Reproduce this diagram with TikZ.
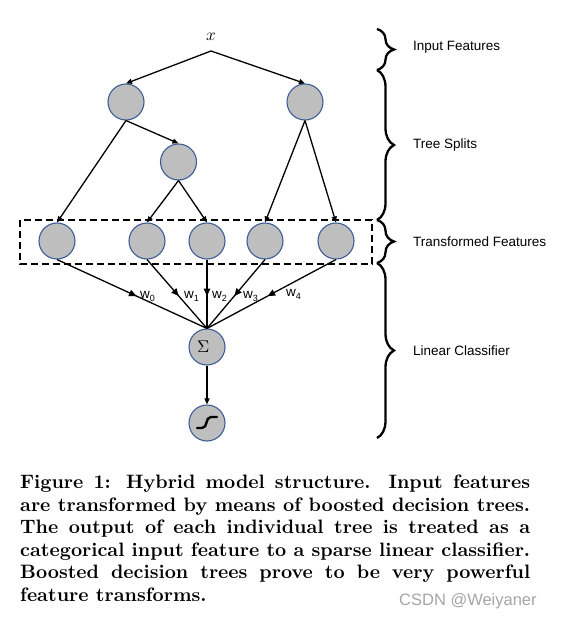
\documentclass[tikz,border=0pt]{standalone}
\usepackage{fontspec}
\usepackage{unicode-math}
\setmathfont{Latin Modern Math}
\setsansfont{Liberation Sans}
\newfontfamily\capfont{lmroman10-bold.otf}
\usetikzlibrary{arrows.meta,decorations.pathreplacing,decorations.markings}
\definecolor{nodefill}{RGB}{190,190,190}
\definecolor{nodeedge}{RGB}{62,92,150}
\definecolor{wmgray}{RGB}{165,165,165}
\begin{document}
\begin{tikzpicture}[x=1pt,y=-1pt,
  feat/.style={circle,draw=nodeedge,fill=nodefill,line width=1.1pt,minimum size=36pt,inner sep=0pt},
  treeedge/.style={line width=1.3pt,-{Triangle[length=6pt,width=5pt]}},
  wline/.style={line width=1.3pt,postaction={decorate},
    decoration={markings,mark=at position 0.53 with {\arrow{Triangle[length=7.5pt,width=6.5pt]}}}},
  bracebar/.style={decorate,decoration={brace,amplitude=17pt,aspect=0.5},line width=2.3pt},
  sidelbl/.style={font=\fontsize{13.5}{16}\selectfont\sffamily,anchor=west,inner sep=0pt},
  wlbl/.style={font=\fontsize{13.5}{15}\selectfont\sffamily,anchor=west,inner sep=0pt}]
\useasboundingbox (0,0) rectangle (562,621);

% input
\node[inner sep=0pt,font=\fontsize{17}{19}\selectfont] (x) at (211,37) {$x$};
\coordinate (apex) at (211,51);

% tree split nodes
\node[feat] (t1) at (126,102) {};
\node[feat] (t2) at (305,102) {};
\node[feat] (m)  at (178.5,162) {};

% transformed features
\node[feat] (f1) at (57,241) {};
\node[feat] (f2) at (147,241) {};
\node[feat] (f3) at (207,241) {};
\node[feat] (f4) at (265,241) {};
\node[feat] (f5) at (336,241) {};

% classifier
\node[feat,font=\fontsize{17}{19}\selectfont] (s) at (207,347) {\hspace*{-7pt}$\Sigma$};
\node[feat] (g) at (207,423) {};

% dashed box
\draw[line width=1.5pt,dash pattern=on 7pt off 4pt] (20,220) rectangle (372,264);

% tree edges
\draw[treeedge] (apex) -- (t1.north);
\draw[treeedge] (apex) -- (t2.north);
\draw[treeedge] (t1.south) -- (m.north);
\draw[treeedge] (t1.south) -- (f1.north);
\draw[treeedge] (m.south) -- (f2.north);
\draw[treeedge] (m.south) -- (f3.north);
\draw[treeedge] (t2.south) -- (f4.north);
\draw[treeedge] (t2.south) -- (f5.north);

% weighted edges
\foreach \f in {f1,f2,f3,f4,f5} \draw[wline] (\f.south) -- (s.north);
\node[wlbl] (w0) at (140,296) {w\raisebox{-3pt}{\fontsize{9}{10}\selectfont 0}};
\node[wlbl] (w1) at (184,296) {w\raisebox{-3pt}{\fontsize{9}{10}\selectfont 1}};
\node[wlbl] (w2) at (212,296) {w\raisebox{-3pt}{\fontsize{9}{10}\selectfont 2}};
\node[wlbl] (w3) at (243,296) {w\raisebox{-3pt}{\fontsize{9}{10}\selectfont 3}};
\node[wlbl] (w4) at (286,294) {w\raisebox{-3pt}{\fontsize{9}{10}\selectfont 4}};

\draw[treeedge] (s.south) -- (g.north);

% sigmoid glyph
\draw[line width=2.4pt,line cap=round] (197,428) -- (202,428) .. controls (208,428) and (205,417) .. (211,417) -- (217,417);

% braces
\draw[bracebar] (377,29) -- (377,70);
\draw[bracebar] (377,70) -- (377,220);
\draw[bracebar] (377,220) -- (377,263);
\draw[bracebar] (377,263) -- (377,438);

\node[sidelbl] (l1) at (413,47) {Input Features};
\node[sidelbl] (l2) at (413,145) {Tree Splits};
\node[sidelbl] (l3) at (413,242) {Transformed Features};
\node[sidelbl] (l4) at (413,351) {Linear Classifier};

% caption
\node[anchor=north west,inner sep=0pt,text width=510pt,align=justify,
  font=\fontsize{19.4}{22.5}\selectfont\capfont] (cap) at (20,475)
  {Figure 1: Hybrid model structure. Input features\linebreak
   are transformed by means of boosted decision trees.\linebreak
   The output of each individual tree is treated as a\linebreak
   categorical input feature to a sparse linear classifier.\linebreak
   Boosted decision trees prove to be very powerful\linebreak
   feature transforms.};

% watermark
\node[anchor=west,inner sep=0pt,text=wmgray,font=\fontsize{16.5}{18}\selectfont\sffamily] (wm) at (399,601) {CSDN @Weiyaner};
\end{tikzpicture}
\end{document}
